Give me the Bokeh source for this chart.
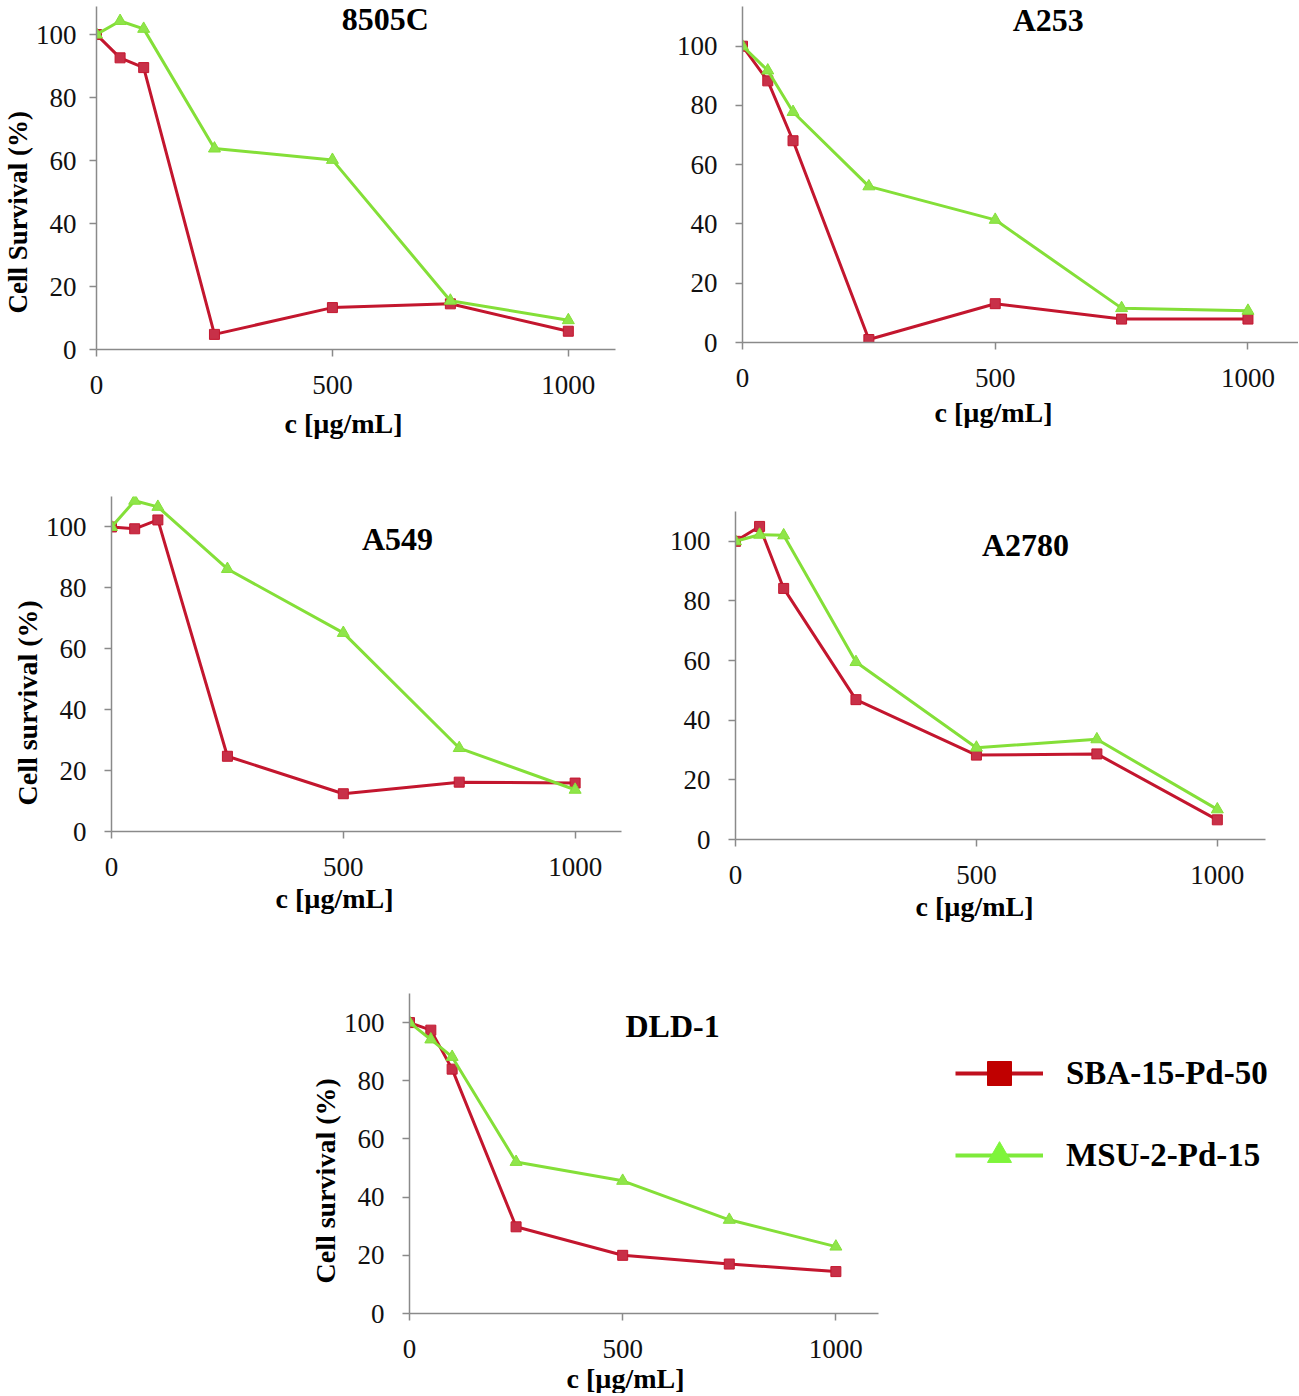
from bokeh.plotting import figure
from bokeh.models import Range1d, FixedTicker, Label, Legend, LegendItem, Title, Spacer
from bokeh.layouts import row, column
from bokeh.embed import file_html
from bokeh.resources import INLINE

# ---------------- data ----------------
conc = [0, 50, 100, 250, 500, 750, 1000]
cell_lines = ["8505C", "A253", "A549", "A2780", "DLD-1"]
series_names = ["SBA-15-Pd-50", "MSU-2-Pd-15"]

sba_8505c = [100, 92.6, 89.5, 4.8, 13.3, 14.5, 5.8]
sba_a253 = [100, 88.3, 68.1, 1.0, 13.1, 7.9, 7.9]
sba_a549 = [100, 99.4, 102.3, 24.7, 12.4, 16.2, 15.9]
sba_a2780 = [100, 105.0, 84.2, 46.9, 28.3, 28.7, 6.6]
sba_dld1 = [100, 97.4, 84.0, 29.8, 20.0, 17.0, 14.4]

msu_8505c = [100, 104.3, 101.8, 63.8, 60.2, 15.5, 9.3]
msu_a253 = [100, 91.8, 77.8, 52.7, 41.4, 11.6, 10.7]
msu_a549 = [100, 108.6, 106.6, 86.2, 65.2, 27.4, 13.7]
msu_a2780 = [100, 102.2, 102.0, 59.5, 30.8, 33.6, 10.1]
msu_dld1 = [100, 94.2, 88.2, 52.1, 45.6, 32.2, 23.0]

x_ticks = [0, 500, 1000]
y_ticks = [0, 20, 40, 60, 80, 100]
x_title = "c [µg/mL]"
y_title_upper = "Cell Survival (%)"
y_title_lower = "Cell survival (%)"

# ---------------- style ----------------
RED = "#C3162E"
RED_FILL = "#C83048"
GREEN = "#84DF38"
GREEN_FILL = "#8FE54A"
AXIS = "#8A8A8A"
SERIF = "Liberation Serif"

# layout per panel: frame size, borders, ranges, label positions
cfg = {
    "8505C": dict(fw=519, fh=343, l=96, r=43, t=6, b=107, xend=1100, yend=108.9,
                  title=(612, 104.8), xoff=188, xstand=18, ystand=13,
                  ylab=(y_title_upper, 36, 0, "27px")),
    "A253": dict(fw=556, fh=336, l=84, r=0, t=6, b=114, xend=1100, yend=113.4,
                 title=(605, 108.7), xoff=192, xstand=10, ystand=18, ylab=None),
    "A549": dict(fw=510, fh=335, l=111, r=37, t=40, b=134, xend=1100, yend=110,
                 title=(617, 96.2), xoff=164, xstand=4, ystand=18,
                 ylab=(y_title_lower, 26, 0, "28px")),
    "A2780": dict(fw=530, fh=328, l=77, r=33, t=40, b=126, xend=1100, yend=110,
                  title=(602, 98.6), xoff=180, xstand=4, ystand=18, ylab=None),
    "DLD-1": dict(fw=469, fh=320, l=409, r=72, t=28, b=80, xend=1100, yend=110,
                  title=(617, 99), xoff=157, xstand=0, ystand=18,
                  ylab=(y_title_lower, 30, 0, "28px")),
}


def make_panel(name, red, green, c):
    p = figure(frame_width=c["fw"], frame_height=c["fh"],
               min_border_left=c["l"], min_border_right=c["r"],
               min_border_top=c["t"], min_border_bottom=c["b"],
               x_range=Range1d(0, c["xend"]), y_range=Range1d(0, c["yend"]),
               output_backend="svg", toolbar_location=None, tools="", title=None)
    p.xgrid.visible = False
    p.ygrid.visible = False
    p.outline_line_color = None
    p.background_fill_color = "white"
    p.border_fill_color = "white"

    p.xaxis.ticker = FixedTicker(ticks=x_ticks)
    p.yaxis.ticker = FixedTicker(ticks=y_ticks)
    for ax in (p.xaxis, p.yaxis):
        ax.axis_line_color = AXIS
        ax.axis_line_width = 1.5
        ax.major_tick_line_color = AXIS
        ax.major_tick_line_width = 1.5
        ax.major_tick_in = 0
        ax.major_tick_out = 7
        ax.minor_tick_in = 0
        ax.minor_tick_out = 0
        ax.major_label_text_font = SERIF
        ax.major_label_text_font_size = "27px"
        ax.major_label_text_color = "#111111"
    p.xaxis.major_label_standoff = 19
    p.yaxis.major_label_standoff = c["ystand"]

    p.line(conc, red, line_color=RED, line_width=3)
    p.scatter(conc, red, marker="square", size=10,
              fill_color=RED_FILL, line_color=RED, line_width=1)
    p.line(conc, green, line_color=GREEN, line_width=3)
    p.scatter(conc, green, marker="triangle", size=12,
              fill_color=GREEN_FILL, line_color=GREEN, line_width=1)

    tx, ty = c["title"]
    p.add_layout(Label(x=tx, y=ty, text=name, text_align="center",
                       text_baseline="middle", text_font=SERIF,
                       text_font_style="bold", text_font_size="32px",
                       text_color="#000000"))
    p.add_layout(Title(text=x_title, align="left", offset=c["xoff"],
                       text_font=SERIF, text_font_style="bold",
                       text_font_size="28px", text_color="#000000",
                       standoff=c["xstand"]), "below")
    if c["ylab"] is not None:
        txt, off, stand, fs = c["ylab"]
        p.add_layout(Title(text=txt, align="left", offset=off,
                           text_font=SERIF, text_font_style="bold",
                           text_font_size=fs, text_color="#000000",
                           standoff=stand), "left")
    return p


reds = [sba_8505c, sba_a253, sba_a549, sba_a2780, sba_dld1]
greens = [msu_8505c, msu_a253, msu_a549, msu_a2780, msu_dld1]

panels = [make_panel(n, rd, gr, cfg[n]) for n, rd, gr in zip(cell_lines, reds, greens)]

# legend panel (its own frame; hidden copies of the DLD-1 series feed the legend)
fleg = figure(frame_width=348, frame_height=320, min_border_left=0, min_border_right=0,
              min_border_top=28, min_border_bottom=80, x_axis_type=None, y_axis_type=None,
              output_backend="svg", toolbar_location=None, tools="", title=None)
fleg.xgrid.visible = False
fleg.ygrid.visible = False
fleg.outline_line_color = None
lr = fleg.line(conc, sba_dld1, line_color="#C0101E", line_width=4, visible=False)
lrp = fleg.scatter(conc, sba_dld1, marker="square", fill_color="#C00000",
                   line_color="#C00000", visible=False)
lg = fleg.line(conc, msu_dld1, line_color="#7EEA3A", line_width=4, visible=False)
lgp = fleg.scatter(conc, msu_dld1, marker="triangle", fill_color="#7EF53A",
                   line_color="#7EF53A", visible=False)
legend = Legend(items=[LegendItem(label=series_names[0], renderers=[lr, lrp]),
                       LegendItem(label=series_names[1], renderers=[lg, lgp])],
                location=(5, 128), orientation="vertical")
legend.border_line_color = None
legend.background_fill_alpha = 0
legend.padding = 0
legend.margin = 0
legend.spacing = 22
legend.glyph_width = 88
legend.glyph_height = 60
legend.label_standoff = 23
legend.label_text_font = SERIF
legend.label_text_font_style = "bold"
legend.label_text_font_size = "33px"
legend.label_text_color = "#000000"
fleg.add_layout(legend)

layout = column(row(panels[0], panels[1]),
                row(panels[2], column(Spacer(width=1, height=15), panels[3])),
                row(panels[4], fleg))

open("out.html", "w").write(file_html(layout, INLINE))
